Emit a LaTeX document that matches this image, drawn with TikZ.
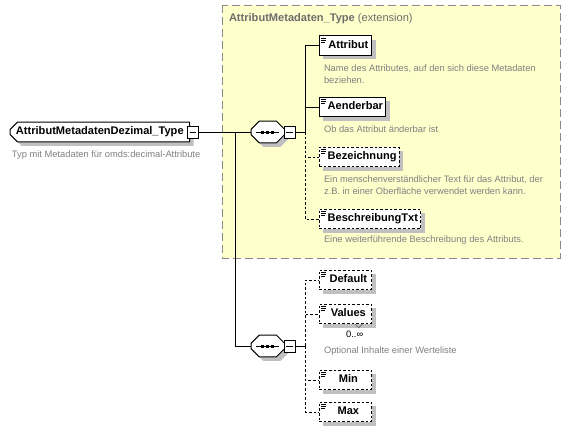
\documentclass[tikz,border=0pt]{standalone}
\usepackage{fontspec}
\setmainfont{Liberation Sans}
\usetikzlibrary{shapes.misc,shadows}
\definecolor{extfill}{RGB}{255,255,204}
\definecolor{extline}{RGB}{136,136,136}
\definecolor{desctext}{RGB}{128,128,128}
\definecolor{boxshadow}{RGB}{192,192,192}

\begin{document}
\begin{tikzpicture}[x=0.75pt,y=-0.75pt,inner sep=0pt,outer sep=0pt,line width=0.75pt,
shade box/.style={drop shadow={shadow xshift=3pt,shadow yshift=-3pt,fill=boxshadow,opacity=1}},
typebox/.style={draw,fill=white,chamfered rectangle,chamfered rectangle corners={north west,south west},chamfered rectangle xsep=2pt,
  anchor=west,minimum height=14.5pt,inner xsep=2.5pt,text height=6pt,text depth=1.6pt,
  font=\fontsize{8.3}{10}\selectfont\bfseries,shade box},
element/.style={draw,fill=white,rectangle,anchor=west,minimum width=39.5pt,minimum height=14.5pt,inner xsep=2pt,
  text height=6pt,text depth=1.6pt,font=\fontsize{8.3}{10}\selectfont\bfseries,shade box,
  execute at begin node={\hspace*{4.5pt}},
  path picture={\draw[solid,line width=0.6pt] ([shift={(2,2.5)}]path picture bounding box.north west) -- ++(5,0) ++(-5,2) -- ++(5,0) ++(-5,2) -- ++(4,0);}},
optional/.style={element,dash pattern=on 2pt off 1.5pt},
compositor/.style={draw,fill=white,chamfered rectangle,chamfered rectangle xsep=2.6pt,anchor=west,
  inner xsep=0pt,inner ysep=0pt,text height=4.6pt,text depth=4.6pt,shade box,
  execute at begin node={\hspace*{20pt}},
  path picture={\draw ([xshift=-8.5pt]path picture bounding box.center) -- ([xshift=8.5pt]path picture bounding box.center);
    \fill[black] ([shift={(-6.5,-1.5)}]path picture bounding box.center) rectangle ++(3,3);
    \fill[black] ([shift={(-1.5,-1.5)}]path picture bounding box.center) rectangle ++(3,3);
    \fill[black] ([shift={(3.5,-1.5)}]path picture bounding box.center) rectangle ++(3,3);}},
toggle/.style={draw,fill=white,rectangle,anchor=west,minimum width=8pt,minimum height=9pt,
  drop shadow={shadow xshift=0.75pt,shadow yshift=-0.75pt,fill=black,opacity=1},
  path picture={\draw ([xshift=-2.6pt]path picture bounding box.center) -- ([xshift=2.6pt]path picture bounding box.center);}},
desc/.style={anchor=north west,align=left,text=desctext,font=\fontsize{7}{9}\selectfont},
link/.style={dash pattern=on 2pt off 1.5pt}]

\useasboundingbox (0,0) rectangle (570,432);

% extension of AttributMetadaten_Type
\draw[extline,fill=extfill,dash pattern=on 6pt off 3pt] (222,5) rectangle (560,258);
\node[anchor=north west,text=extline!80!black,font=\fontsize{8.3}{10}\selectfont] (extTitle) at (229,13) {\textbf{AttributMetadaten\_Type} (extension)};

% the type itself
\node[typebox] (mainType) at (10,132) {AttributMetadatenDezimal\_Type};
\node[toggle] (mainToggle) at ([xshift=-1.5pt]mainType.east) {};
\node[desc] (mainDesc) at (12,151) {Typ mit Metadaten für omds:decimal-Attribute};

% first sequence
\node[compositor] (seqA) at (251,132) {};
\node[toggle] (seqAToggle) at (seqA.east) {};
\node[element] (attribut) at (319,45.5) {Attribut};
\node[desc] at (324,65) {Name des Attributes, auf den sich diese Metadaten\\beziehen.};
\node[element] (aenderbar) at (319,107) {Aenderbar};
\node[desc] at (324,126) {Ob das Attribut änderbar ist};
\node[optional] (bezeichnung) at (319,157) {Bezeichnung};
\node[desc] at (324,176) {Ein menschenverständlicher Text für das Attribut, der\\z.B. in einer Oberfläche verwendet werden kann.};
\node[optional] (beschreibung) at (319,219) {BeschreibungTxt};
\node[desc] at (324,236) {Eine weiterführende Beschreibung des Attributs.};

% second sequence
\node[compositor] (seqB) at (251,346) {};
\node[toggle] (seqBToggle) at (seqB.east) {};
\node[optional] (default) at (319,280) {Default};
\node[optional] (values) at (319,314) {Values};
\draw[black!60,line width=0.5pt] ([shift={(-17,0)}]values.south east) -- ++(4,4) -- ++(4,-4);
\node[font=\fontsize{7}{9}\selectfont] (valuesOccurs) at ([shift={(-17,11)}]values.south east) {0..∞};
\node[desc] at (324,347) {Optional Inhalte einer Werteliste};
\node[optional] (min) at (319,380) {Min};
\node[optional] (max) at (319,412) {Max};

% connectors
\coordinate (forkMain) at (235,132);
\coordinate (forkA) at (305,132);
\coordinate (forkB) at (305,346);
\draw (mainToggle.east) -- (seqA.west);
\draw (forkMain) |- (seqB.west);
\draw (seqAToggle.east) -- (forkA);
\draw (forkA) |- (attribut.west);
\draw (forkA) |- (aenderbar.west);
\draw[link] (forkA) |- (bezeichnung.west);
\draw[link] (forkA) |- (beschreibung.west);
\draw (seqBToggle.east) -- (forkB);
\draw[link] (forkB) |- (default.west);
\draw[link] (forkB) |- (values.west);
\draw[link] (forkB) |- (min.west);
\draw[link] (forkB) |- (max.west);
\end{tikzpicture}
\end{document}
